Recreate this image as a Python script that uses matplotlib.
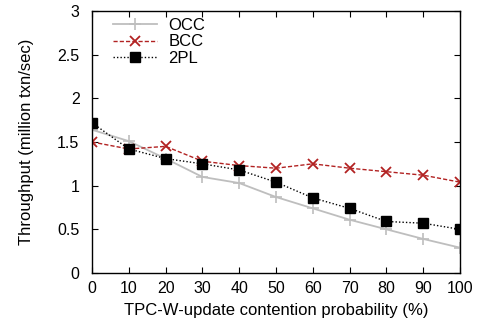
import matplotlib
matplotlib.use("Agg")
import matplotlib.pyplot as plt

# Data
x = [0, 10, 20, 30, 40, 50, 60, 70, 80, 90, 100]
occ = [1.64, 1.51, 1.31, 1.10, 1.03, 0.87, 0.74, 0.61, 0.50, 0.39, 0.29]
bcc = [1.50, 1.42, 1.45, 1.28, 1.23, 1.20, 1.25, 1.20, 1.16, 1.12, 1.04]
tpl = [1.72, 1.42, 1.31, 1.25, 1.18, 1.04, 0.86, 0.74, 0.59, 0.57, 0.50]
yticks = [0, 0.5, 1, 1.5, 2, 2.5, 3]
ylabels = ["0", "0.5", "1", "1.5", "2", "2.5", "3"]

plt.rcParams['font.family'] = ['Liberation Sans', 'DejaVu Sans']
plt.rcParams['font.size'] = 11.5

fig = plt.figure(figsize=(4.79, 3.28), dpi=100)
ax = fig.add_axes([92 / 479, 1 - 273 / 328, (460 - 92) / 479, (273 - 11) / 328])

ax.plot(x, occ, color='#bebebe', lw=1.3, marker='+', ms=8, mew=1.2, label='OCC')
ax.plot(x, bcc, color='#b22222', lw=1.0, ls=(0, (3, 1.5)), marker='x', ms=6.5, mew=1.3, label='BCC')
ax.plot(x, tpl, color='black', lw=1.0, ls=(0, (1, 1.5)), marker='s', ms=7.5, label='2PL')

ax.set_xlim(0, 100)
ax.set_ylim(0, 3)
ax.set_xticks(x)
ax.set_yticks(yticks)
ax.set_yticklabels(ylabels)
ax.tick_params(direction='in', top=True, right=True, length=4, width=0.8)
ax.tick_params(axis='x', pad=6)
ax.tick_params(axis='y', pad=9)
for s in ax.spines.values():
    s.set_linewidth(1.0)

ax.set_xlabel("TPC-W-update contention probability (%)", fontsize=12, labelpad=5)
ax.set_ylabel("Throughput (million txn/sec)", fontsize=12, labelpad=17)

ax.legend(loc='upper left', frameon=False, fontsize=12, handlelength=2.6, handletextpad=0.7,
          labelspacing=0.1, borderaxespad=0.0, bbox_to_anchor=(0.04, 1.0))

fig.savefig("out.png", dpi=100)
